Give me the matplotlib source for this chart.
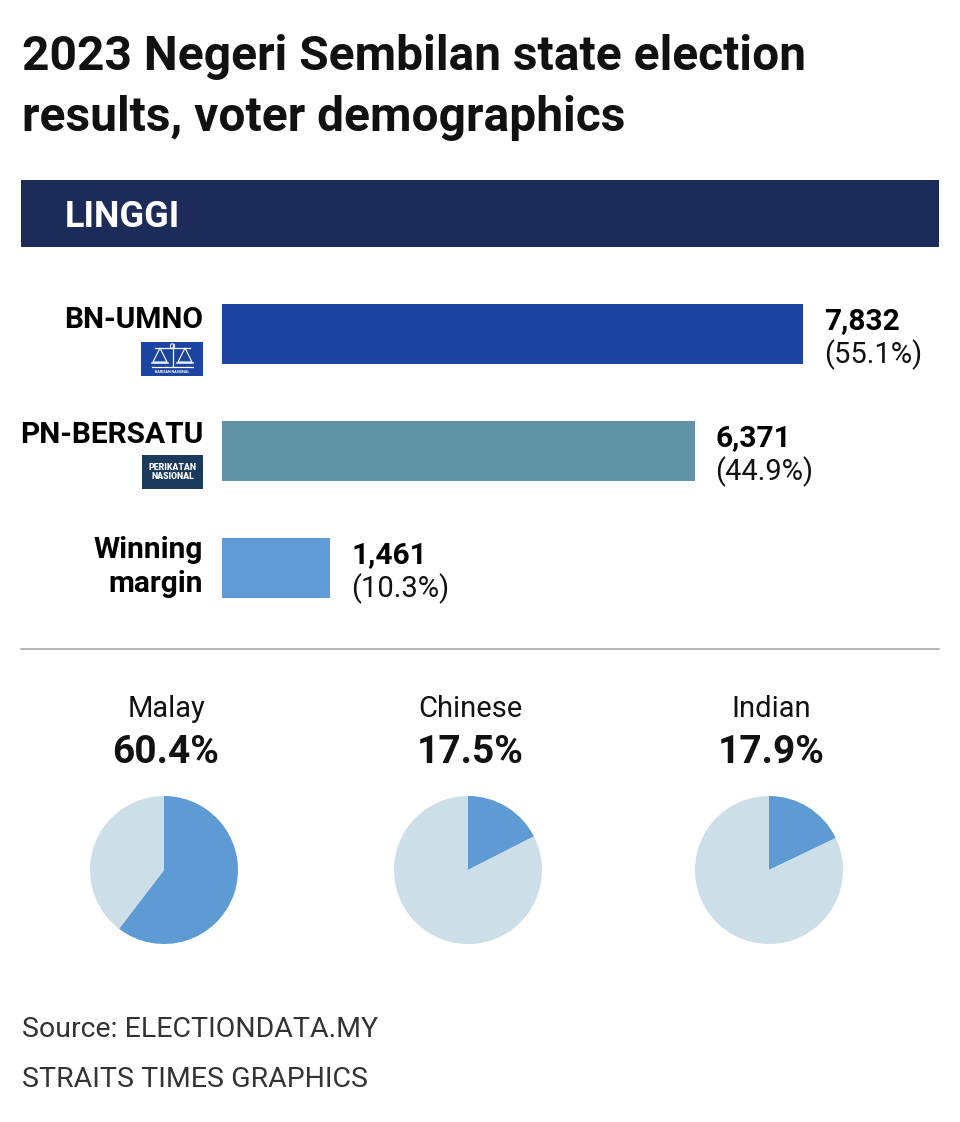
import matplotlib
matplotlib.use("Agg")
import matplotlib.pyplot as plt
from matplotlib.patches import Rectangle, Polygon

plt.rcParams["font.family"] = ["Roboto", "DejaVu Sans"]

# Data
PARTIES = ["BN-UMNO", "PN-BERSATU", "Winning\nmargin"]
VOTES = [7832, 6371, 1461]
SHARES = [55.1, 44.9, 10.3]
GROUPS = ["Malay", "Chinese", "Indian"]
GROUP_PCT = [60.4, 17.5, 17.9]

BAR_COLORS = ["#1b45a1", "#6093a6", "#5f9bd6"]
PIE_BLUE = "#5e9ad4"
PIE_LIGHT = "#ccdfe8"
NAVY = "#1c2b58"

W, H = 960, 1122


def fx(x):
    return x / W


def fy(y):
    return 1 - y / H


fig = plt.figure(figsize=(W / 100, H / 100), dpi=100)
fig.patch.set_facecolor("white")

# Overlay axis in pixel coordinates for decoration
deco = fig.add_axes([0, 0, 1, 1])
deco.set_xlim(0, W)
deco.set_ylim(H, 0)
deco.axis("off")

# Title
fig.text(fx(22), fy(70), "2023 Negeri Sembilan state election", fontsize=34.5,
         fontweight="bold", color="#111111", va="baseline")
fig.text(fx(22), fy(131), "results, voter demographics", fontsize=34.5,
         fontweight="bold", color="#111111", va="baseline")

# Header bar
deco.add_patch(Rectangle((21, 180), 918, 67, color=NAVY, lw=0))
fig.text(fx(65), fy(227), "LINGGI", fontsize=26, fontweight="bold",
         color="white", va="baseline")

# Bars
x_max = 9000
bar_w_px = x_max * (803 - 222) / VOTES[0]
row_px = 117
ax = fig.add_axes([fx(222), fy(334 - row_px / 2 + 3 * row_px), bar_w_px / W,
                   3 * row_px / H])
ax.barh(range(len(VOTES)), VOTES, height=60 / row_px, color=BAR_COLORS, lw=0)
ax.set_xlim(0, x_max)
ax.set_ylim(2.5, -0.5)
ax.axis("off")

for i, (v, s) in enumerate(zip(VOTES, SHARES)):
    ax.annotate(f"{v:,}", (v, i), xytext=(21, 5), textcoords="offset pixels",
                fontsize=21.5, fontweight="bold", va="baseline", ha="left")
    ax.annotate(f"({s}%)", (v, i), xytext=(21, -29), textcoords="offset pixels",
                fontsize=21, va="baseline", ha="left", color="#111111")

# Party labels
fig.text(fx(203), fy(328), PARTIES[0], fontsize=21.5, fontweight="bold",
         ha="right", va="baseline")
fig.text(fx(203), fy(443), PARTIES[1], fontsize=21.5, fontweight="bold",
         ha="right", va="baseline")
win, marg = PARTIES[2].split("\n")
fig.text(fx(203), fy(558), win, fontsize=21.5, fontweight="bold",
         ha="right", va="baseline")
fig.text(fx(203), fy(592), marg, fontsize=21.5, fontweight="bold",
         ha="right", va="baseline")

# BN logo
deco.add_patch(Rectangle((141, 342), 62, 34, color="#1b45a1", lw=0))
deco.plot([155, 190], [348, 348], color="white", lw=0.9)
deco.plot([172.5, 172.5], [344, 366], color="white", lw=0.9)
deco.add_patch(plt.Circle((172.5, 346), 2.2, fill=False, ec="white", lw=0.7))
deco.plot([152, 193], [367, 367], color="white", lw=0.9)
for cx in (160, 185):
    deco.add_patch(Polygon([(cx, 348), (cx - 7, 362), (cx + 7, 362)],
                           closed=True, fill=False, ec="white", lw=0.8))
    deco.plot([cx - 8, cx + 8], [362.5, 362.5], color="white", lw=1.1)
deco.text(172, 372, "BARISAN NASIONAL", fontsize=2.6, color="white",
          ha="center", va="center", fontweight="bold")

# PN logo
deco.add_patch(Rectangle((142, 455), 61, 34, color="#1b3a5c", lw=0))
deco.text(172.5, 472, "PERIKATAN\nNASIONAL", fontsize=6.3, color="white",
          ha="center", va="center", fontweight="heavy", linespacing=0.9)

# Separator
deco.plot([21, 939], [649, 649], color="#aaaaaa", lw=1.2)

# Pies
centers = [164, 468, 769]
radius = 74
for cx, grp, pct in zip(centers, GROUPS, GROUP_PCT):
    pax = fig.add_axes([fx(cx - radius), fy(870 + radius), 2 * radius / W,
                        2 * radius / H])
    pax.pie([pct, 100 - pct], colors=[PIE_BLUE, PIE_LIGHT], startangle=90,
            counterclock=False, wedgeprops={"linewidth": 0})
    pax.set_xlim(-1, 1)
    pax.set_ylim(-1, 1)
    pax.set_aspect("equal")
    pax.axis("off")
    fig.text(fx(cx + 2), fy(717), grp, fontsize=21, ha="center",
             va="baseline", color="#111111")
    fig.text(fx(cx + 2), fy(763), f"{pct}%", fontsize=28, fontweight="bold",
             ha="center", va="baseline", color="#111111")

# Footer
fig.text(fx(22), fy(1037), "Source: ELECTIONDATA.MY", fontsize=20.5,
         color="#333333", va="baseline")
fig.text(fx(22), fy(1087), "STRAITS TIMES GRAPHICS", fontsize=20.5,
         color="#333333", va="baseline")

fig.savefig("out.png", dpi=100, facecolor="white")
